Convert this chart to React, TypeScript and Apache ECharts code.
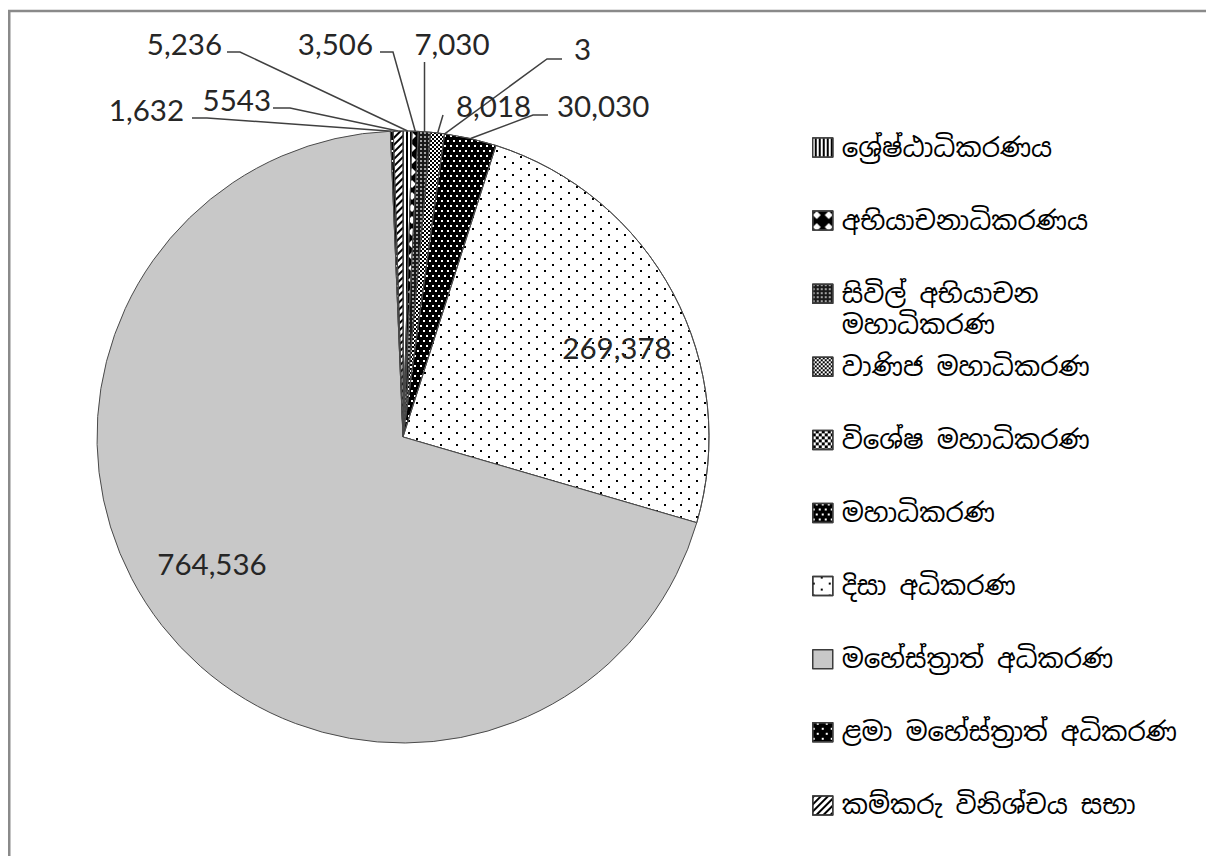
import React, { useEffect, useRef } from 'react';
import * as echarts from 'echarts';

// ---- data ----
const CATEGORIES = [
  'ශ්‍රේෂ්ඨාධිකරණය',
  'අභියාචනාධිකරණය',
  'සිවිල් අභියාචන මහාධිකරණ',
  'වාණිජ මහාධිකරණ',
  'විශේෂ මහාධිකරණ',
  'මහාධිකරණ',
  'දිසා අධිකරණ',
  'මහේස්ත්‍රාත් අධිකරණ',
  'ළමා මහේස්ත්‍රාත් අධිකරණ',
  'කම්කරු විනිශ්චය සභා',
];
const VALUES = [5236, 3506, 7030, 8018, 3, 30030, 269378, 764536, 1632, 5543];
const VALUE_LABELS = ['5,236', '3,506', '7,030', '8,018', '3', '30,030', '269,378', '764,536', '1,632', '5543'];

// ---- styles ----
const FILL = ['#000', '#000', '#1a1a1a', '#fff', '#fff', '#000', '#fff', '#c8c8c8', '#000', '#fff'];
const DECALS: any[] = [
  { symbol: 'rect', symbolSize: 1, symbolKeepAspect: false, color: '#fff', dashArrayX: [1.5, 1.8], dashArrayY: [4, 0] },
  { symbol: 'diamond', symbolSize: 1, symbolKeepAspect: false, color: '#fff', dashArrayX: [8, 4], dashArrayY: [8, 4] },
  { symbol: 'rect', symbolSize: 0.8, symbolKeepAspect: false, color: '#fff', dashArrayX: [2, 2], dashArrayY: [2, 2] },
  { symbol: 'rect', symbolSize: 1, symbolKeepAspect: false, color: '#000', dashArrayX: [[2, 2], [0, 2, 2, 0]], dashArrayY: [2, 0] },
  { symbol: 'rect', symbolSize: 1, symbolKeepAspect: false, color: '#000', dashArrayX: [[3, 3], [0, 3, 3, 0]], dashArrayY: [3, 0] },
  { symbol: 'rect', symbolSize: 1, symbolKeepAspect: false, color: '#fff', dashArrayX: [[2, 4], [0, 3, 2, 1]], dashArrayY: [1.5, 2.5] },
  { symbol: 'rect', symbolSize: 1, symbolKeepAspect: false, color: '#000', dashArrayX: [[1.6, 13.4], [0, 7.5, 1.6, 5.9]], dashArrayY: [1.6, 3.8] },
  undefined,
  { symbol: 'rect', symbolSize: 1, symbolKeepAspect: false, color: '#fff', dashArrayX: [[1.5, 6.5], [0, 4, 1.5, 2.5]], dashArrayY: [1.5, 3] },
  { symbol: 'rect', symbolSize: 1, symbolKeepAspect: false, color: '#000', dashArrayX: [1, 0], dashArrayY: [1.8, 2.4], rotation: -Math.PI / 4 },
];

// label placement (pixels) : text anchor, optional elbow and end of leader line
const LABEL_POS: any[] = [
  { x: 222, y: 43, align: 'right', elbow: [240, 52], end: [227, 52] },
  { x: 373, y: 43, align: 'right', elbow: [393, 52], end: [380, 52] },
  { x: 452, y: 43, align: 'center', vertical: 62 },
  { x: 456, y: 105, align: 'left', elbow: null, end: [443, 115] },
  { x: 574, y: 48, align: 'left', elbow: [547, 59], end: [562, 59] },
  { x: 557, y: 105, align: 'left', elbow: [533, 115], end: [548, 115] },
  { x: 617, y: 347, align: 'center', inside: true },
  { x: 212, y: 563, align: 'center', inside: true },
  { x: 184, y: 109, align: 'right', elbow: [207, 118], end: [192, 118] },
  { x: 271, y: 99, align: 'right', elbow: [290, 108], end: [273, 108] },
];

const LEGEND_FIRST = 147.5;
const LEGEND_STEP = 73.1;
const SINHALA_FONT = "'Noto Sans Sinhala', 'Iskoola Pota', 'Noto Sans', 'DejaVu Sans', sans-serif";

export default function App() {
  const ref = useRef<HTMLDivElement>(null);
  useEffect(() => {
    if (!ref.current) return;
    const chart = echarts.init(ref.current, undefined, { renderer: 'svg' });

    const legends = CATEGORIES.map((name, i) => {
      const center = LEGEND_FIRST + LEGEND_STEP * i;
      const twoLine = i === 2;
      return {
        data: [name],
        left: 812,
        top: center - (twoLine ? 46.5 : 15.5),
        orient: 'vertical',
        padding: 0,
        itemWidth: 20,
        itemHeight: 19,
        itemGap: 0,
        icon: 'rect',
        selectedMode: false,
        itemStyle: { borderColor: '#3c3c3c', borderWidth: 1.5 },
        formatter: twoLine ? '\nසිවිල් අභියාචන\nමහාධිකරණ' : '{name}',
        textStyle: {
          fontSize: 26,
          lineHeight: 31,
          color: '#000',
          fontFamily: SINHALA_FONT,
          padding: [0, 0, 0, 4],
        },
      };
    });

    const option: any = {
      animation: false,
      backgroundColor: '#fff',
      graphic: [
        {
          type: 'line',
          silent: true,
          z: -10,
          shape: { x1: 8, y1: 11, x2: 1206, y2: 11 },
          style: { stroke: '#8a8a8a', lineWidth: 2.5 },
        },
        {
          type: 'line',
          silent: true,
          z: -10,
          shape: { x1: 9.25, y1: 10, x2: 9.25, y2: 856 },
          style: { stroke: '#8a8a8a', lineWidth: 2.5 },
        },
      ],
      legend: legends,
      series: [
        {
          type: 'pie',
          center: [403, 437],
          radius: 306,
          startAngle: 90,
          clockwise: true,
          avoidLabelOverlap: false,
          emphasis: { disabled: true },
          itemStyle: { borderColor: '#4a4a4a', borderWidth: 1 },
          label: {
            show: true,
            position: 'outside',
            formatter: (p: any) => VALUE_LABELS[p.dataIndex],
            fontFamily: "Lato, 'Open Sans', sans-serif",
            fontSize: 29.5,
            color: '#262626',
          },
          labelLine: {
            show: true,
            length: 10,
            length2: 10,
            lineStyle: { color: '#404040', width: 1.5 },
          },
          labelLayout: (params: any) => {
            const pos = LABEL_POS[params.dataIndex];
            const res: any = { x: pos.x, y: pos.y, align: pos.align, verticalAlign: 'middle' };
            const pts = params.labelLinePoints;
            if (!pos.inside && pts && pts.length) {
              const a = pts[0];
              if (pos.vertical !== undefined) {
                res.labelLinePoints = [a, [a[0], pos.vertical], [a[0], pos.vertical]];
              } else if (pos.elbow) {
                res.labelLinePoints = [a, pos.elbow, pos.end];
              } else {
                res.labelLinePoints = [a, pos.end, pos.end];
              }
            }
            return res;
          },
          data: VALUES.map((v, i) => {
            const item: any = {
              name: CATEGORIES[i],
              value: v,
              itemStyle: { color: FILL[i] },
            };
            if (DECALS[i]) item.itemStyle.decal = DECALS[i];
            if (LABEL_POS[i].inside) item.labelLine = { show: false };
            return item;
          }),
        },
      ],
    };
    chart.setOption(option);
    return () => chart.dispose();
  }, []);

  return (
    <div
      ref={ref}
      style={{ position: 'fixed', left: 0, top: 0, width: 1206, height: 856, background: '#fff' }}
    />
  );
}
